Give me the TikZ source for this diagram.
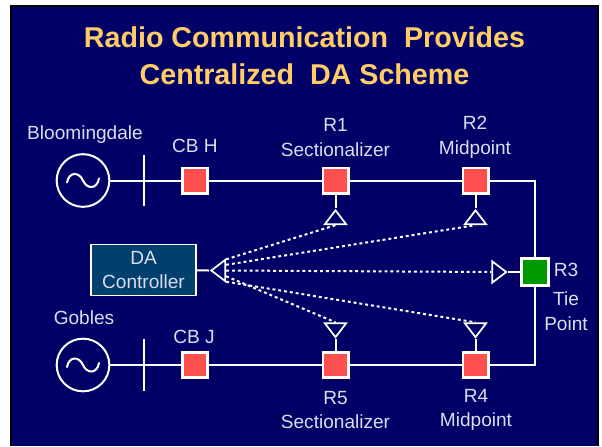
\documentclass[tikz,border=0pt]{standalone}
\usepackage{fontspec}
\setmainfont{Liberation Sans}
\usetikzlibrary{calc}
\usetikzlibrary{shapes.geometric}
\definecolor{slide}{HTML}{000066}
\definecolor{titletext}{HTML}{FFCC66}
\definecolor{labeltext}{HTML}{DCDCF0}
\definecolor{switchred}{HTML}{FF5050}
\definecolor{tiegreen}{HTML}{009900}
\definecolor{ctrlblue}{HTML}{003F6E}
\tikzset{
  wire/.style={draw=white, line width=1.5pt},
  radio/.style={draw=white, line width=1.5pt, dash pattern=on 2.2pt off 2.2pt},
  switchbox/.style={draw=white, line width=2pt, fill=switchred, minimum size=19pt, inner sep=0pt},
  source/.style={circle, draw=white, line width=1.5pt, minimum size=39.5pt, inner sep=0pt},
  antenna/.style={isosceles triangle, isosceles triangle stretches, draw=white, line width=1.3pt,
    minimum width=16pt, minimum height=10.5pt, inner sep=0pt},
  lbl/.style={text=labeltext, font=\fontsize{14.3}{18.6}\selectfont, align=center, inner sep=0pt},
}
\begin{document}
\begin{tikzpicture}[x=0.75pt, y=-0.75pt]
  \useasboundingbox (0,0) rectangle (602,446);
  \fill[white] (0,0) rectangle (602,446);
  \fill[black] (10,5) rectangle (598.5,446);
  \fill[slide] (11.5,6.5) rectangle (597,446);

  \node (title) at (304.5,55.5) [text=titletext, font=\fontsize{21.5}{27.7}\bfseries\selectfont, align=center, inner sep=0pt]
    {Radio Communication\ \ Provides\\Centralized\ \ DA Scheme};

  % sources and bus bars
  \node (srcH) at (83,180.5) [source] {};
  \node (srcJ) at (83,365) [source] {};
  \draw[white, line width=1.5pt, line cap=round] ($(srcH)+(-16,2)$) .. controls +(2,-11) and +(-4,-9) .. (srcH.center) .. controls +(4,9) and +(-2,11) .. ($(srcH)+(16,-2)$);
  \draw[white, line width=1.5pt, line cap=round] ($(srcJ)+(-16,2)$) .. controls +(2,-11) and +(-4,-9) .. (srcJ.center) .. controls +(4,9) and +(-2,11) .. ($(srcJ)+(16,-2)$);
  \coordinate (busHtop) at (144,155);
  \coordinate (busHbot) at (144,206);
  \coordinate (busJtop) at (144,339);
  \coordinate (busJbot) at (144,391);
  \draw[wire] (busHtop) -- (busHbot);
  \draw[wire] (busJtop) -- (busJbot);

  % switches
  \node (cbH) at (195,180.5) [switchbox] {};
  \node (cbJ) at (195,365) [switchbox] {};
  \node (R1) at (335.5,180.5) [switchbox] {};
  \node (R2) at (475.5,180.5) [switchbox] {};
  \node (R3) at (535,272) [switchbox, fill=tiegreen, minimum size=20pt] {};
  \node (R4) at (475.5,365) [switchbox] {};
  \node (R5) at (335.5,365) [switchbox] {};

  \draw[wire] (srcH) -- (cbH) -- (R1) -- (R2);
  \draw[wire] (R2) -| (R3);
  \draw[wire] (R3) |- (R4);
  \draw[wire] (R4) -- (R5) -- (cbJ) -- (srcJ);

  % controller
  \node (ctrl) at (143.5,270) [rectangle, draw=white, line width=1.2pt, fill=ctrlblue, minimum width=79pt, minimum height=38pt,
    text=labeltext, font=\fontsize{14.3}{17.5}\selectfont, align=center, inner sep=0pt] {DA\\Controller};

  % antennas
  \node (antC) at (220,270.5) [antenna, rotate=180] {};
  \node (ant1) at (335.5,219) [antenna, rotate=90] {};
  \node (ant2) at (475.5,219) [antenna, rotate=90] {};
  \node (ant3) at (497.5,272) [antenna] {};
  \node (ant4) at (475.5,328.5) [antenna, rotate=-90] {};
  \node (ant5) at (335.5,328.5) [antenna, rotate=-90] {};
  \draw[wire] (ctrl) -- (antC.apex);
  \draw[wire] (R1) -- (ant1.apex);
  \draw[wire] (R2) -- (ant2.apex);
  \draw[wire] (R3) -- (ant3.apex);
  \draw[wire] (R4) -- (ant4.apex);
  \draw[wire] (R5) -- (ant5.apex);
  \foreach \a/\f in {ant1/0.95, ant2/0.73, ant3/0.5, ant5/0.27, ant4/0.05}
    \draw[radio] ($(antC.left corner)!\f!(antC.right corner)$) -- ($(\a.left corner)!0.5!(\a.right corner)$);

  % labels
  \node (lblH) at (85,134.5) [lbl] {Bloomingdale};
  \node (lblJ) at (84,317.5) [lbl] {Gobles};
  \node (lblcbH) at (195,145.5) [lbl] {CB H};
  \node (lblcbJ) at (194,337) [lbl] {CB J};
  \node (lblR1) at (335.5,137.5) [lbl] {R1\\Sectionalizer};
  \node (lblR2) at (475,137.5) [lbl] {R2\\Midpoint};
  \node (lblR3) at (566,269.5) [lbl] {R3};
  \node (lblTie) at (566,311.5) [lbl] {Tie\\Point};
  \node (lblR4) at (476,410) [lbl] {R4\\Midpoint};
  \node (lblR5) at (335.5,410) [lbl] {R5\\Sectionalizer};
\end{tikzpicture}
\end{document}
